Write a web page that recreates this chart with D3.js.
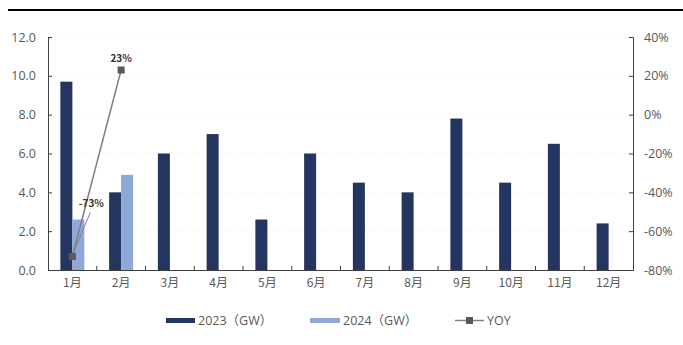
<!DOCTYPE html>
<html><head><meta charset="utf-8">
<script src="https://cdn.jsdelivr.net/npm/d3@7"></script>
<style>
body{margin:0;background:#fff;}
svg{display:block;font-family:"Noto Sans CJK SC","Open Sans",sans-serif;}
</style></head>
<body>
<svg id="chart" width="683" height="345"></svg>
<script>
const months = ["1月","2月","3月","4月","5月","6月","7月","8月","9月","10月","11月","12月"];
const values2023 = [9.7,4.0,6.0,7.0,2.6,6.0,4.5,4.0,7.8,4.5,6.5,2.4];
const values2024 = [2.6,4.9];
const yoy = [-73,23];
const leftTicks = [0,2,4,6,8,10,12];
const rightTicks = [-80,-60,-40,-20,0,20,40];

const svg = d3.select("#chart");
const plotL = 48, plotR = 633, plotT = 37, plotB = 270;
const c2023 = "#243560", c2024 = "#8FA8D8", cLine = "#808080", cMark = "#595959", cText = "#595959";

// heading rule
svg.append("line").attr("x1",8).attr("x2",683).attr("y1",10).attr("y2",10)
  .attr("stroke","#000").attr("stroke-width",2);

const x = d3.scaleBand().domain(months).range([plotL,plotR]);
const y = d3.scaleLinear().domain([0,12]).range([plotB,plotT]);
const y2 = d3.scaleLinear().domain([-80,40]).range([plotB,plotT]);
const barW = 12;

// faint gridlines
svg.append("g").selectAll("line").data(leftTicks.slice(1)).join("line")
  .attr("x1",plotL).attr("x2",plotR).attr("y1",d=>y(d)).attr("y2",d=>y(d))
  .attr("stroke","#efefef").attr("stroke-dasharray","1,2");

// bars
svg.append("g").selectAll("rect").data(values2023).join("rect")
  .attr("x",(d,i)=>x(months[i])+x.bandwidth()/2-barW)
  .attr("y",d=>y(d)).attr("width",barW).attr("height",d=>y(0)-y(d))
  .attr("fill",c2023);
svg.append("g").selectAll("rect").data(values2024).join("rect")
  .attr("x",(d,i)=>x(months[i])+x.bandwidth()/2)
  .attr("y",d=>y(d)).attr("width",barW).attr("height",d=>y(0)-y(d))
  .attr("fill",c2024);

// axes
const axL = svg.append("g").attr("transform",`translate(${plotL},0)`)
  .call(d3.axisLeft(y).tickValues(leftTicks).tickFormat(d3.format(".1f")).tickSizeInner(-4).tickSizeOuter(-4).tickPadding(12));
const axR = svg.append("g").attr("transform",`translate(${plotR},0)`)
  .call(d3.axisRight(y2).tickValues(rightTicks).tickFormat(d=>d+"%").tickSizeInner(-4).tickSizeOuter(-4).tickPadding(11));
const axB = svg.append("g").attr("transform",`translate(0,${plotB})`)
  .call(d3.axisBottom(x).tickSize(0).tickPadding(8));
// category boundary ticks
svg.append("g").selectAll("line").data(months.slice(1)).join("line")
  .attr("x1",d=>x(d)).attr("x2",d=>x(d)).attr("y1",plotB).attr("y2",plotB-4)
  .attr("stroke","#404040");
[axL,axR,axB].forEach(a=>{
  a.selectAll(".domain,.tick line").attr("stroke","#404040");
  a.selectAll("text").attr("fill",cText).style("font-size","12.5px").style("font-family","'Open Sans','Noto Sans CJK SC',sans-serif");
});
axB.selectAll("text").style("font-size","12px").style("font-family","'Noto Sans CJK SC',sans-serif");

// YOY line
const pts = yoy.map((d,i)=>[x(months[i])+x.bandwidth()/2, y2(d)]);
svg.append("path").attr("d",d3.line()(pts)).attr("fill","none").attr("stroke",cLine).attr("stroke-width",1.5);
svg.append("g").selectAll("rect").data(pts).join("rect")
  .attr("x",d=>d[0]-3.5).attr("y",d=>d[1]-3.5).attr("width",7).attr("height",7).attr("fill",cMark);

// value labels
svg.append("text").attr("x",pts[1][0]).attr("y",pts[1][1]-8).attr("text-anchor","middle")
  .attr("fill","#333").style("font-size","10px").style("font-weight","bold").text(yoy[1]+"%");
svg.append("line").attr("x1",pts[0][0]+1).attr("y1",pts[0][1]-4).attr("x2",pts[0][0]+18).attr("y2",pts[0][1]-44)
  .attr("stroke",cLine).attr("stroke-width",1);
svg.append("text").attr("x",pts[0][0]+19).attr("y",pts[0][1]-49).attr("text-anchor","middle")
  .attr("fill","#333").style("font-size","10px").style("font-weight","bold").text(yoy[0]+"%");

// legend
const lg = svg.append("g").style("font-size","12.5px").style("font-family","'Open Sans','Noto Sans CJK SC',sans-serif").attr("fill",cText);
lg.append("rect").attr("x",166).attr("y",318).attr("width",29).attr("height",5).attr("fill",c2023);
lg.append("text").attr("x",198).attr("y",325).text("2023（GW）");
lg.append("rect").attr("x",310).attr("y",318).attr("width",30).attr("height",5).attr("fill",c2024);
lg.append("text").attr("x",343).attr("y",325).text("2024（GW）");
lg.append("line").attr("x1",455).attr("x2",484).attr("y1",320.5).attr("y2",320.5).attr("stroke",cLine).attr("stroke-width",1.5);
lg.append("rect").attr("x",466).attr("y",317).attr("width",7).attr("height",7).attr("fill",cMark);
lg.append("text").attr("x",487).attr("y",325).text("YOY");
</script>
</body></html>
